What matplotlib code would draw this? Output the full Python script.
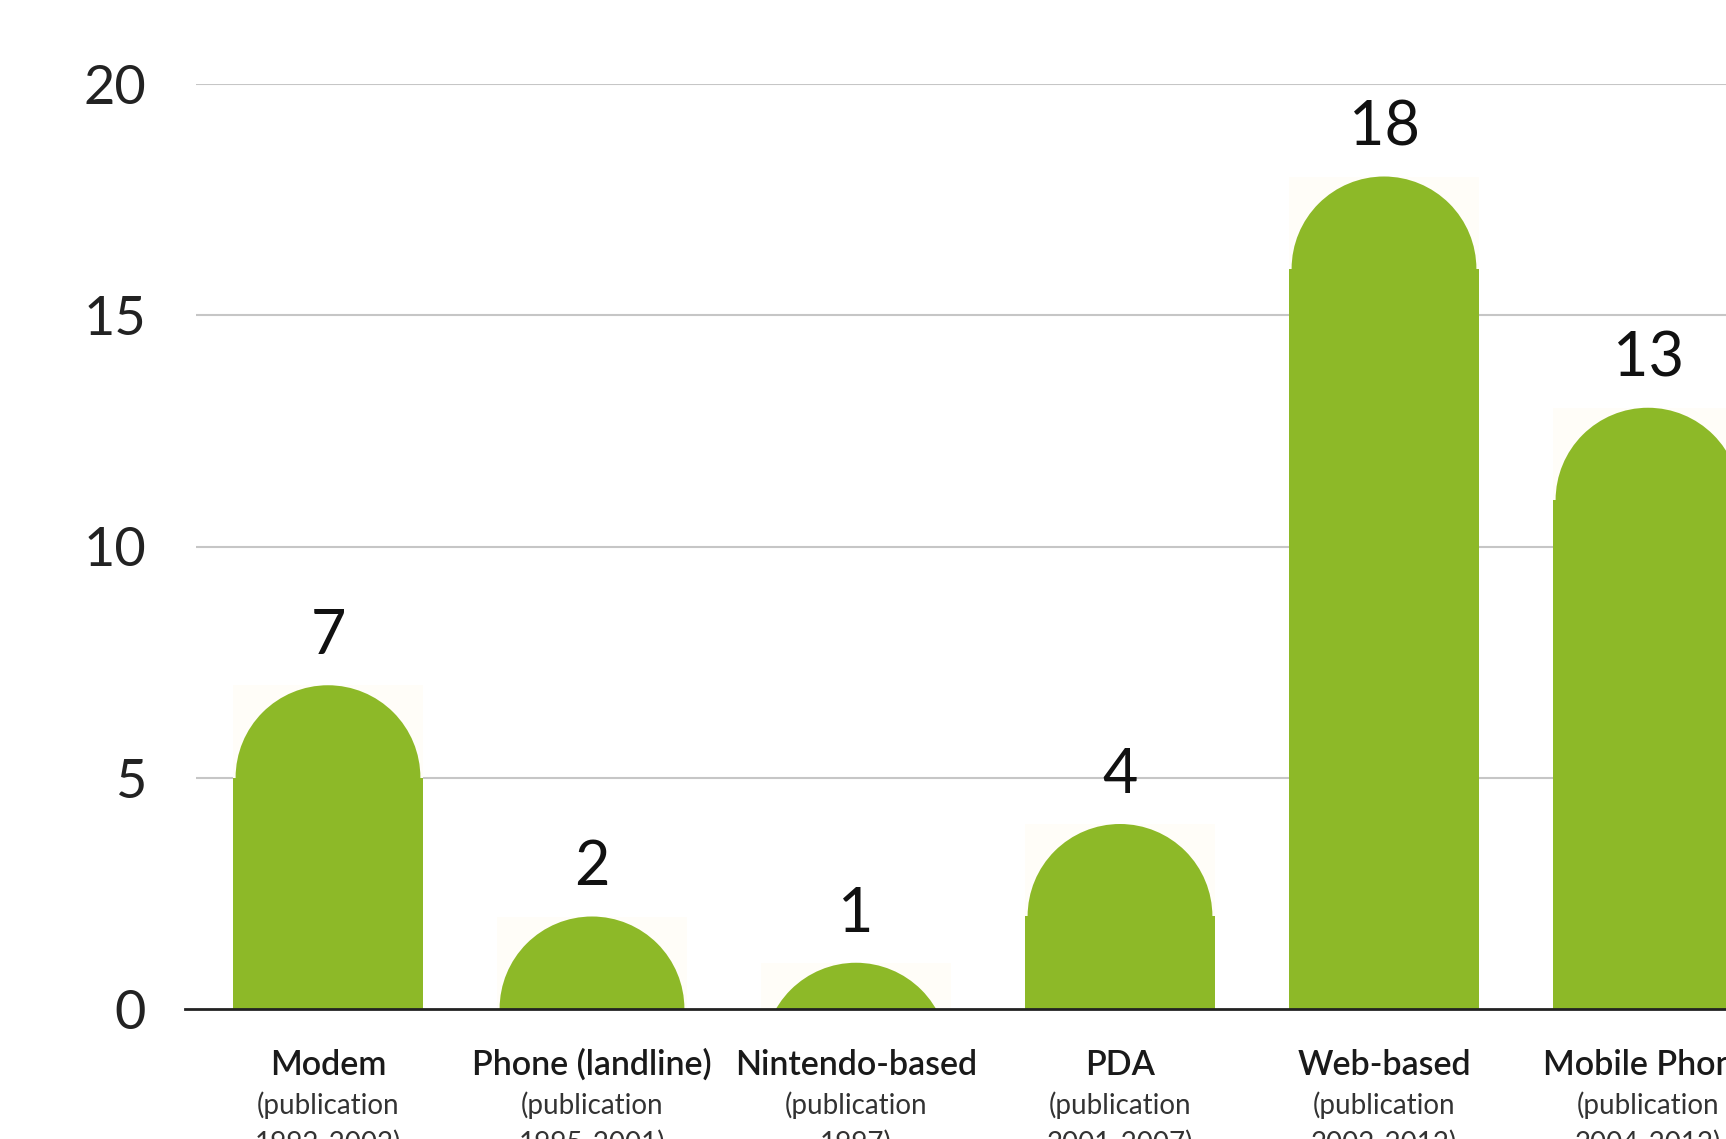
import matplotlib
matplotlib.use("Agg")
import matplotlib.pyplot as plt
from matplotlib.patches import Ellipse, Rectangle
import numpy as np

categories = ["Modem", "Phone (landline)", "Nintendo-based", "PDA", "Web-based", "Mobile Phone"]
periods = ["1992-2002)", "1995-2001)", "1997)", "2001-2007)", "2002-2012)", "2004-2012)"]
counts = [7, 2, 1, 4, 18, 13]
yticks = [0, 5, 10, 15, 20]

green = "#8db928"
bar_w = 0.72
cap_w = 0.70

plt.rcParams["font.family"] = ["Lato", "DejaVu Sans"]

fig = plt.figure(figsize=(17.26, 11.39), dpi=100)
# axes run past the right edge on purpose: the original is a cropped view
ax = fig.add_axes([196 / 1726, 130 / 1139, 1584 / 1726, 925 / 1139])
ax.set_xlim(-0.5, 5.5)
ax.set_ylim(0, 20)

for s in ax.spines.values():
    s.set_visible(False)

ax.set_yticks(yticks)
ax.set_yticklabels([str(t) for t in yticks], fontsize=39, color="#222222")
ax.tick_params(axis="y", length=0, pad=36)
ax.set_xticks([])
for t in yticks[1:]:
    ax.axhline(t, color="#c6c6c6", lw=1.5, zorder=1)
ax.axhline(0, xmin=-0.007, xmax=1, color="#222222", lw=2.0, zorder=5, clip_on=False)

# pixel scale, so the caps come out round
p0 = ax.transData.transform((0, 0))
p1 = ax.transData.transform((1, 1))
px_x = p1[0] - p0[0]
px_y = p1[1] - p0[1]
r_y = cap_w * px_x / 2 / px_y

x = np.arange(len(categories))
for xi, v in zip(x, counts):
    base = max(v - r_y, 0)
    ax.add_patch(Rectangle((xi - bar_w / 2, base), bar_w, v - base,
                           facecolor="#fffdf8", edgecolor="none", zorder=2))
    if v - r_y > 0:
        ax.bar(xi, v - r_y, width=bar_w, color=green, zorder=3)
    ax.add_patch(Ellipse((xi, v - r_y), cap_w, 2 * r_y,
                         facecolor=green, edgecolor="none", zorder=3))
    ax.annotate(str(v), (xi, v), xytext=(0, 35), textcoords="offset points",
                ha="center", va="center", fontsize=44, color="#111111")

for xi, name, per in zip(x, categories, periods):
    ax.annotate(name, (xi, 0), xytext=(0, -40), textcoords="offset points",
                ha="center", va="center", fontsize=24.5, fontweight="semibold",
                color="#1a1a1a", annotation_clip=False)
    ax.annotate("(publication", (xi, 0), xytext=(0, -69), textcoords="offset points",
                ha="center", va="center", fontsize=20, fontweight="normal",
                color="#333333", annotation_clip=False)
    ax.annotate(per, (xi, 0), xytext=(0, -97), textcoords="offset points",
                ha="center", va="center", fontsize=20, fontweight="normal",
                color="#333333", annotation_clip=False)

fig.savefig("out.png", dpi=100)
